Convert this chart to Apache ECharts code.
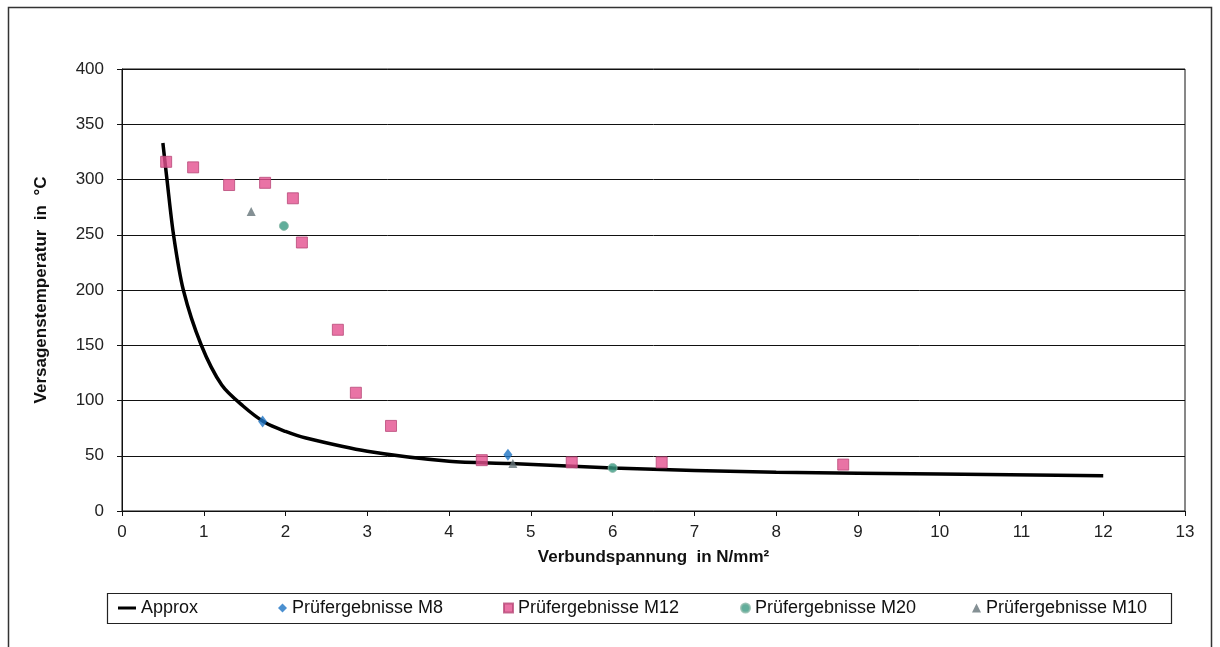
<!DOCTYPE html>
<html>
<head>
<meta charset="utf-8">
<script src="https://cdn.jsdelivr.net/npm/echarts@6/dist/echarts.min.js"></script>
<style>
    html, body { margin: 0; padding: 0; background: #fff; }
    #chart { width: 1220px; height: 647px; }
</style>
</head>
<body>
<div id="chart"></div>
<script>
// Approx-Kurve
var approx_x = [0.5, 0.55, 0.63, 0.75, 0.97, 1.22, 1.48, 1.75, 2, 2.25, 3, 4, 4.75, 6, 8, 10, 12];
var approx_y = [333, 300, 250, 200, 150, 114, 95, 80, 72, 66, 54, 45, 43, 39, 35, 33.5, 32];

// Prüfergebnisse
var m8_x = [1.72, 4.72];
var m8_y = [81, 51];
var m12_x = [0.54, 0.87, 1.31, 1.75, 2.09, 2.20, 2.64, 2.86, 3.29, 4.40, 5.50, 6.60, 8.82];
var m12_y = [316, 311, 295, 297, 283, 243, 164, 107, 77, 46, 44, 44, 42];
var m20_x = [1.98, 6.0];
var m20_y = [258, 39];
var m10_x = [1.58, 4.78];
var m10_y = [271, 43];

var x_ticks = [0, 13, 1];
var y_ticks = [0, 400, 50];

function pairs(xs, ys) {
    var out = [];
    for (let i = 0; i < xs.length; i++) {
        out.push([xs[i], ys[i]]);
    }
    return out;
}

var font = "Liberation Sans";
var myChart = echarts.init(document.getElementById("chart"));

function legendAt(item, left, w, h) {
    return {
        data: [item],
        left: left,
        top: 599,
        padding: 0,
        itemWidth: w,
        itemHeight: h,
        itemGap: 0,
        selectedMode: false,
        textStyle: { fontFamily: font, fontSize: 18, color: "#111" },
    };
}

var option = {
    animation: false,
    backgroundColor: "#fff",
    graphic: [
        {
            type: "rect",
            shape: { x: 8.5, y: 7.5, width: 1203, height: 645 },
            style: { fill: "none", stroke: "#333", lineWidth: 1.5 },
        },
        {
            type: "rect",
            shape: { x: 107.5, y: 593.5, width: 1064, height: 30 },
            style: { fill: "none", stroke: "#222", lineWidth: 1.2 },
        },
    ],
    grid: {
        left: 122,
        right: 35,
        top: 69,
        bottom: 136,
        show: true,
        borderColor: "#111",
        borderWidth: 1,
    },
    legend: [
        legendAt({ name: "Approx", icon: "rect" }, 118, 18, 3),
        legendAt("Prüfergebnisse M8", 278, 9, 9),
        legendAt("Prüfergebnisse M12", 503, 9, 9),
        legendAt("Prüfergebnisse M20", 740, 9, 9),
        legendAt("Prüfergebnisse M10", 972, 9, 9),
    ],
    xAxis: {
        type: "value",
        min: x_ticks[0],
        max: x_ticks[1],
        interval: x_ticks[2],
        name: "Verbundspannung  in N/mm²",
        nameLocation: "middle",
        nameGap: 38,
        nameTextStyle: { fontFamily: font, fontSize: 17, fontWeight: "bold", color: "#111" },
        axisLine: { lineStyle: { color: "#111", width: 1 } },
        axisTick: { show: true, length: 5, lineStyle: { color: "#111" } },
        axisLabel: { fontFamily: font, fontSize: 17, color: "#222", margin: 13 },
        splitLine: { show: false },
    },
    yAxis: {
        type: "value",
        min: y_ticks[0],
        max: y_ticks[1],
        interval: y_ticks[2],
        name: "Versagenstemperatur  in  °C",
        nameLocation: "middle",
        nameGap: 72,
        nameTextStyle: { fontFamily: font, fontSize: 17, fontWeight: "bold", color: "#111" },
        axisLine: { show: true, lineStyle: { color: "#111", width: 1 } },
        axisTick: { show: true, length: 5, lineStyle: { color: "#111" } },
        axisLabel: { fontFamily: font, fontSize: 17, color: "#222", margin: 18 },
        splitLine: { show: true, lineStyle: { color: "#111", width: 1 } },
    },
    series: [
        {
            name: "Approx",
            type: "line",
            data: pairs(approx_x, approx_y),
            smooth: 0.3,
            symbol: "none",
            color: "#000",
            lineStyle: { color: "#000", width: 3.5 },
            z: 2,
        },
        {
            name: "Prüfergebnisse M8",
            type: "scatter",
            data: pairs(m8_x, m8_y),
            symbol: "diamond",
            symbolSize: [9, 12],
            itemStyle: { color: "#1e74c4" },
            z: 3,
        },
        {
            name: "Prüfergebnisse M12",
            type: "scatter",
            data: pairs(m12_x, m12_y),
            symbol: "rect",
            symbolSize: 11,
            itemStyle: { color: "#e4508f", borderColor: "#b84878", borderWidth: 1 },
            z: 3,
        },
        {
            name: "Prüfergebnisse M20",
            type: "scatter",
            data: pairs(m20_x, m20_y),
            symbol: "circle",
            symbolSize: 9,
            itemStyle: { color: "#3a9a82", borderColor: "#8ab8a8", borderWidth: 1 },
            z: 3,
        },
        {
            name: "Prüfergebnisse M10",
            type: "scatter",
            data: pairs(m10_x, m10_y),
            symbol: "triangle",
            symbolSize: 9,
            itemStyle: { color: "#657479" },
            z: 3,
        },
    ],
};
myChart.setOption(option);
</script>
</body>
</html>
